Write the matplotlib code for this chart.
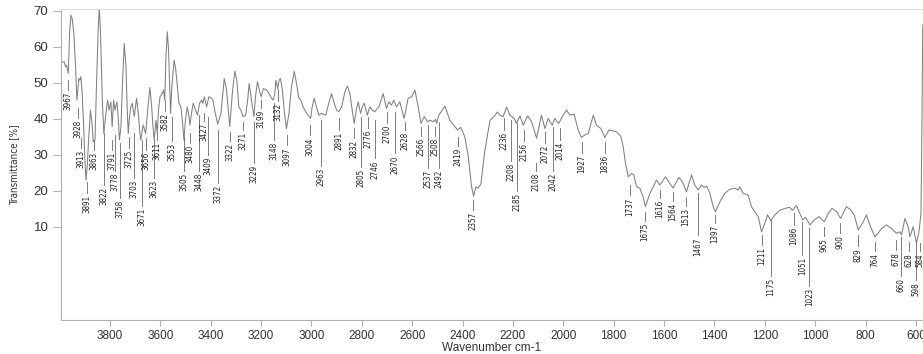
import matplotlib
matplotlib.use("Agg")
import matplotlib.pyplot as plt

# ---------------- data ----------------
wavenumber = [
    3998, 3981, 3976, 3972, 3965, 3960, 3955, 3950, 3943, 3936, 3931, 3923, 3919, 3915, 3910, 3904,
    3899, 3895, 3890, 3883, 3877, 3871, 3866, 3859, 3853, 3846, 3842, 3837, 3830, 3824, 3817, 3809,
    3803, 3796, 3791, 3785, 3780, 3772, 3767, 3762, 3756, 3750, 3743, 3736, 3731, 3727, 3722, 3717,
    3711, 3703, 3694, 3687, 3682, 3677, 3668, 3658, 3650, 3641, 3634, 3629, 3624, 3617, 3612, 3607,
    3601, 3592, 3587, 3582, 3578, 3572, 3567, 3563, 3559, 3554, 3545, 3539, 3533, 3526, 3518, 3511,
    3506, 3500, 3493, 3488, 3482, 3476, 3469, 3460, 3452, 3444, 3436, 3431, 3425, 3416, 3407, 3399,
    3391, 3383, 3372, 3359, 3346, 3337, 3330, 3324, 3314, 3304, 3296, 3288, 3280, 3271, 3261, 3253,
    3247, 3238, 3228, 3222, 3214, 3205, 3199, 3191, 3178, 3168, 3158, 3152, 3146, 3141, 3134, 3128,
    3123, 3115, 3108, 3099, 3089, 3079, 3068, 3059, 3050, 3042, 3033, 3023, 3013, 3003, 2997, 2989,
    2980, 2970, 2960, 2943, 2931, 2920, 2909, 2900, 2891, 2880, 2867, 2857, 2847, 2838, 2830, 2822,
    2814, 2805, 2798, 2790, 2778, 2768, 2759, 2748, 2732, 2715, 2702, 2692, 2682, 2673, 2662, 2649,
    2632, 2616, 2602, 2589, 2576, 2565, 2552, 2539, 2530, 2516, 2507, 2503, 2494, 2470, 2450, 2430,
    2420, 2407, 2391, 2377, 2364, 2356, 2347, 2338, 2327, 2311, 2291, 2278, 2261, 2252, 2239, 2225,
    2212, 2195, 2186, 2172, 2159, 2142, 2126, 2106, 2087, 2073, 2060, 2044, 2034, 2018, 2001, 1987,
    1974, 1957, 1941, 1928, 1915, 1901, 1881, 1868, 1851, 1835, 1819, 1806, 1789, 1772, 1762, 1753,
    1742, 1729, 1720, 1709, 1696, 1683, 1674, 1656, 1643, 1630, 1617, 1594, 1577, 1564, 1541, 1527,
    1511, 1491, 1478, 1465, 1451, 1441, 1431, 1418, 1405, 1396, 1378, 1359, 1339, 1319, 1306, 1299,
    1286, 1266, 1253, 1240, 1226, 1213, 1200, 1189, 1176, 1160, 1140, 1120, 1101, 1090, 1074, 1061,
    1050, 1038, 1021, 1004, 985, 964, 948, 933, 915, 899, 876, 858, 845, 829, 809, 796,
    783, 763, 750, 737, 717, 697, 677, 664, 657, 644, 631, 624, 611, 598, 588, 580,
    576, 573,
]
transmittance = [
    55.8, 55.8, 54.4, 54.9, 52.6, 63.7, 68.8, 67.9, 63.7, 54.4, 45.2, 51.2, 50.7, 51.7, 47.0, 37.8,
    28.5, 23.0, 26.7, 35.9, 42.4, 38.7, 33.6, 34.1, 49.8, 65.6, 71.0, 63.7, 45.2, 35.9, 40.6, 45.2,
    42.4, 44.7, 37.8, 45.2, 42.4, 44.7, 40.6, 34.1, 37.8, 49.8, 60.9, 54.4, 42.4, 35.9, 40.6, 43.3,
    44.3, 40.6, 45.7, 41.5, 36.9, 34.1, 38.3, 35.9, 42.4, 48.7, 43.3, 37.8, 34.1, 39.6, 35.9, 42.4,
    46.1, 47.0, 48.0, 45.2, 56.3, 64.2, 59.1, 49.8, 41.5, 48.9, 56.3, 54.0, 49.8, 44.3, 43.3, 38.7,
    34.1, 39.6, 43.3, 41.5, 38.3, 41.5, 44.3, 42.4, 41.0, 44.3, 45.2, 44.3, 46.1, 43.3, 46.1, 45.9,
    45.2, 42.0, 38.5, 41.5, 51.2, 48.0, 42.4, 37.8, 47.0, 53.2, 50.7, 43.3, 42.4, 40.6, 41.0, 45.2,
    49.8, 45.2, 40.6, 46.1, 50.3, 47.5, 46.1, 48.4, 48.0, 47.0, 45.7, 45.2, 46.6, 50.7, 48.4, 50.7,
    51.2, 48.0, 42.4, 37.3, 41.5, 48.9, 53.2, 49.8, 45.7, 45.2, 43.3, 42.0, 41.0, 40.1, 43.3, 45.7,
    43.3, 41.0, 41.5, 41.0, 44.3, 47.0, 44.3, 42.4, 42.0, 43.3, 47.5, 49.1, 47.0, 42.4, 38.7, 42.4,
    44.7, 41.5, 43.3, 44.3, 41.0, 43.3, 42.4, 42.0, 43.3, 47.0, 42.9, 44.7, 43.8, 45.2, 43.3, 44.7,
    40.1, 45.7, 46.1, 48.0, 43.3, 38.7, 40.6, 39.2, 39.6, 39.2, 39.8, 38.7, 41.0, 43.5, 39.6, 37.8,
    36.9, 37.6, 35.0, 29.4, 21.1, 18.5, 21.1, 20.7, 21.9, 31.3, 39.6, 40.4, 41.9, 41.0, 40.6, 43.3,
    41.0, 40.1, 38.7, 40.8, 38.2, 40.8, 39.2, 34.6, 41.0, 37.3, 40.1, 38.2, 40.1, 38.7, 41.0, 42.4,
    41.0, 41.3, 36.9, 34.8, 35.5, 35.9, 41.0, 38.2, 37.3, 34.8, 36.9, 36.7, 36.4, 35.2, 32.2, 27.6,
    23.9, 24.8, 24.4, 21.1, 20.7, 18.3, 15.6, 19.3, 21.1, 23.0, 21.6, 23.9, 22.0, 20.8, 23.7, 22.5,
    19.7, 24.4, 21.6, 20.2, 21.6, 20.9, 21.3, 19.3, 15.6, 14.2, 17.0, 19.3, 20.4, 20.7, 20.2, 21.1,
    19.3, 18.8, 15.6, 14.2, 12.8, 8.6, 10.9, 13.3, 11.7, 13.3, 14.6, 15.1, 15.4, 14.6, 15.9, 13.7,
    11.9, 12.6, 10.5, 11.9, 12.8, 11.4, 13.7, 15.1, 14.2, 12.3, 15.6, 14.6, 13.3, 9.1, 11.4, 13.3,
    10.5, 7.2, 8.2, 9.5, 10.5, 9.5, 8.2, 8.6, 7.7, 12.3, 10.0, 7.2, 10.0, 5.4, 8.6, 13.7,
    40.0, 66.0,
]

peak_labels = [
    3967, 3928, 3913, 3891, 3863, 3822, 3791, 3778, 3758, 3725, 3703, 3671, 3656, 3623, 3611, 3582,
    3553, 3505, 3480, 3448, 3427, 3409, 3372, 3322, 3271, 3229, 3199, 3148, 3132, 3097, 3004, 2963,
    2891, 2832, 2805, 2776, 2746, 2700, 2670, 2628, 2566, 2537, 2508, 2492, 2419, 2357, 2236, 2208,
    2185, 2156, 2108, 2072, 2042, 2014, 1927, 1836, 1737, 1675, 1616, 1564, 1513, 1467, 1397, 1211,
    1175, 1086, 1051, 1023, 965, 900, 829, 764, 678, 660, 628, 598, 584,
]

# layout of the peak annotations (transmittance units): start of the leader line, top of the text
line_top = [
    50.8, 43.0, 34.6, 22.4, 34.1, 36.0, 34.1, 35.5, 33.3, 34.9, 36.0, 34.1, 34.6, 34.1, 36.0, 45.2,
    40.5, 34.9, 36.0, 41.0, 41.6, 40.5, 36.9, 36.3, 39.1, 39.1, 45.2, 44.4, 48.2, 35.5, 38.3, 39.6,
    40.2, 37.4, 40.5, 40.5, 39.6, 41.9, 41.9, 39.1, 37.7, 38.3, 37.7, 39.1, 34.9, 17.4, 40.2, 39.6,
    38.8, 36.9, 27.7, 36.3, 37.7, 37.4, 33.5, 33.5, 21.6, 14.1, 20.2, 19.6, 18.3, 19.4, 13.3, 7.7,
    11.9, 13.8, 11.3, 9.6, 9.9, 11.0, 7.7, 5.8, 6.3, 7.1, 5.8, 5.5, 5.5,
]
text_top = [
    47.5, 39.8, 31.3, 18.8, 30.8, 21.1, 30.8, 24.9, 17.4, 31.3, 23.0, 15.2, 30.8, 23.0, 33.6, 41.6,
    33.3, 24.9, 32.7, 24.9, 38.8, 29.4, 21.6, 33.3, 36.3, 27.1, 42.4, 33.5, 44.4, 32.1, 34.9, 26.3,
    36.3, 34.1, 26.0, 36.9, 28.5, 38.3, 29.9, 36.3, 34.6, 25.8, 34.6, 25.8, 31.9, 14.1, 36.3, 27.7,
    19.4, 33.3, 24.9, 32.7, 24.9, 33.5, 29.9, 29.9, 18.2, 11.0, 17.4, 16.6, 15.2, 7.1, 10.5, 4.4,
    -4.2, 9.9, 1.6, -7.0, 6.9, 7.7, 4.1, 2.7, 3.0, -4.2, 2.7, -5.4, 2.7,
]

x_ticks = [3800, 3600, 3400, 3200, 3000, 2800, 2600, 2400, 2200, 2000, 1800, 1600, 1400, 1200, 1000, 800, 600]
y_ticks = [10, 20, 30, 40, 50, 60, 70]

# ---------------- figure ----------------
W, H = 923, 354
fig = plt.figure(figsize=(W / 100, H / 100), dpi=100)
ax = fig.add_axes([61 / W, (H - 320) / H, 1 - 61 / W, (320 - 9) / H])

ax.plot(wavenumber, transmittance, color="#808080", lw=0.75, clip_on=True)

for wn, lt, tt in zip(peak_labels, line_top, text_top):
    ax.plot([wn, wn], [lt, tt + 0.5], color="#666666", lw=0.6)
    ax.text(wn, tt, str(wn), rotation=90, ha="center", va="top",
            fontsize=5.8, color="#222222", family="DejaVu Sans", fontstretch="condensed",
            clip_on=True)

ax.set_xlim(3994, 572)
ax.set_ylim(-15.9, 70.5)
ax.set_xticks(x_ticks)
ax.set_xticklabels([str(t) for t in x_ticks])
ax.set_yticks(y_ticks)
ax.set_yticklabels([str(t) for t in y_ticks])

for s in ["left", "bottom"]:
    ax.spines[s].set_color("#b0b0b0")
    ax.spines[s].set_linewidth(0.8)
ax.spines["top"].set_color("#dddddd")
ax.spines["top"].set_linewidth(0.8)
ax.spines["right"].set_visible(False)

ax.tick_params(axis="both", colors="#b0b0b0", labelcolor="#333333", width=0.8)
ax.tick_params(axis="y", length=6, labelsize=9.5, pad=3)
ax.tick_params(axis="x", length=4, labelsize=8.5, pad=3)
for lab in ax.get_xticklabels() + ax.get_yticklabels():
    lab.set_family("Liberation Sans")

ax.set_xlabel("Wavenumber cm-1", fontsize=8.5, color="#333333", family="Liberation Sans", labelpad=0)
ax.set_ylabel("Transmittance [%]", fontsize=7, color="#333333", family="DejaVu Sans",
              fontstretch="condensed")
ax.yaxis.set_label_coords(-0.049, 0.5)

fig.savefig("out.png", dpi=100)
